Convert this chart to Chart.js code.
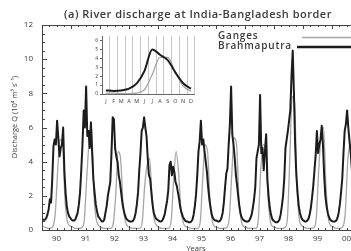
<!DOCTYPE html>
<html>
<head>
<meta charset="utf-8">
<script src="https://cdn.jsdelivr.net/npm/chart.js@4/dist/chart.umd.min.js"></script>
<style>
body { margin: 0; width: 351px; height: 251px; overflow: hidden; background: #fff; position: relative; }
#main { position: absolute; left: 0; top: 0; }
#inset { position: absolute; left: 90px; top: 31px; }
</style>
</head>
<body>
<canvas id="main" width="362" height="251"></canvas>
<canvas id="inset" width="107" height="75"></canvas>
<script>
var chartTitle = '(a) River discharge at India-Bangladesh border';
var yTitle = 'Discharge Q (10\u2074 m\u00b3 s\u207b\u00b9)';
var xTitle = 'Years';
var firstYear = 1990;
var yearLabels = ['90', '91', '92', '93', '94', '95', '96', '97', '98', '99', '00'];
var monthLabels = ['J', 'F', 'M', 'A', 'M', 'J', 'J', 'A', 'S', 'O', 'N', 'D'];
var seriesNames = ['Ganges', 'Brahmaputra'];

// Brahmaputra, half-monthly values, one row per year (10^4 m3/s)
var brahmaputra = [
	[0.6,0.6,0.6,0.7,0.9,1.2,1.8,1.6,3.0,4.9,5.3,5.0,6.4,5.4,4.3,4.8,5.0,6.0,3.5,2.2,1.4,1.0,0.8,0.7], // 1990
	[0.6,0.55,0.55,0.6,0.8,1.0,1.5,2.2,3.5,5.0,7.0,6.0,8.4,5.5,5.8,4.8,6.3,4.5,3.0,2.2,1.5,1.1,0.8,0.7], // 1991
	[0.6,0.5,0.5,0.6,1.0,1.4,2.0,2.4,2.8,4.5,6.6,6.5,4.8,4.3,4.0,3.2,2.8,2.2,1.6,1.2,0.9,0.7,0.6,0.55], // 1992
	[0.5,0.5,0.5,0.55,0.7,1.0,1.5,2.2,3.5,4.5,5.8,6.0,6.6,6.0,5.5,4.2,3.2,3.0,2.2,1.5,1.0,0.8,0.65,0.6], // 1993
	[0.55,0.5,0.5,0.55,0.7,0.9,1.3,1.7,2.3,3.8,4.0,3.2,3.7,3.4,2.8,2.6,2.2,1.8,1.3,1.0,0.8,0.65,0.55,0.5], // 1994
	[0.5,0.45,0.45,0.5,0.6,0.9,1.4,2.1,3.2,4.6,5.2,6.4,5.0,5.3,4.6,4.0,3.4,2.5,1.8,1.3,0.9,0.7,0.6,0.55], // 1995
	[0.55,0.5,0.5,0.55,0.7,1.0,1.6,2.5,3.3,3.6,5.0,6.2,8.4,5.6,5.0,4.2,3.2,2.6,1.9,1.3,0.9,0.7,0.6,0.55], // 1996
	[0.5,0.5,0.5,0.55,0.7,0.9,1.3,1.8,2.5,4.2,4.6,5.0,7.9,4.5,4.8,3.5,4.6,5.6,3.0,2.0,1.3,0.9,0.65,0.55], // 1997
	[0.5,0.45,0.45,0.5,0.6,0.9,1.4,2.0,3.0,4.8,5.3,5.8,6.4,7.0,9.0,10.5,8.0,5.0,3.2,2.2,1.4,1.0,0.75,0.6], // 1998
	[0.55,0.5,0.5,0.55,0.65,0.9,1.3,1.9,2.6,3.5,4.4,5.8,4.5,5.0,5.3,6.1,5.0,3.2,2.0,1.4,1.0,0.75,0.6,0.55], // 1999
	[0.5,0.5,0.5,0.55,0.7,1.0,1.5,2.2,3.0,4.5,5.8,6.2,7.0,6.0,5.2,4.5,3.5,2.5,1.8,1.3,0.9,0.7,0.6,0.55] // 2000
];

// Ganges, monthly values, one row per year
var ganges = [
	[0.2,0.15,0.1,0.1,0.2,1.0,3.5,5.3,5.0,1.8,0.5,0.25], // 1990
	[0.2,0.1,0.1,0.1,0.15,0.6,3.0,5.2,6.0,2.0,0.6,0.25], // 1991
	[0.15,0.1,0.1,0.1,0.1,0.4,2.0,4.6,4.2,1.6,0.5,0.2], // 1992
	[0.15,0.1,0.1,0.1,0.1,0.5,2.6,3.8,4.2,2.0,0.6,0.25], // 1993
	[0.15,0.1,0.1,0.1,0.1,0.6,3.0,4.6,3.4,1.2,0.4,0.2], // 1994
	[0.15,0.1,0.1,0.1,0.1,0.5,3.0,5.0,4.6,1.8,0.5,0.2], // 1995
	[0.15,0.1,0.1,0.1,0.15,0.7,3.2,5.4,5.0,1.8,0.5,0.2], // 1996
	[0.15,0.1,0.1,0.1,0.1,0.6,3.5,5.0,4.8,2.0,0.5,0.2], // 1997
	[0.15,0.1,0.1,0.1,0.15,0.6,4.0,7.8,7.5,2.5,0.6,0.25], // 1998
	[0.15,0.1,0.1,0.1,0.15,0.7,3.5,5.5,6.0,2.6,0.7,0.25], // 1999
	[0.2,0.1,0.1,0.1,0.2,1.0,4.0,5.0,4.6,2.0,0.6,0.25] // 2000
];

// inset: mean seasonal cycle
var gangesMonthly = [0.1,0.1,0.05,0.05,0.1,0.5,2.2,4.1,4.1,2.4,0.9,0.3];
var brahmaMonthly = [0.4,0.35,0.4,0.6,1.2,2.6,5.0,4.4,3.8,2.4,1.2,0.6];
var insetYTicks = [0, 1, 2, 3, 4, 5, 6];

var textColor = '#3a3a3a';
var gangesColor = '#a6a6a6';
var brahmaColor = '#1c1c1c';

function toPoints(rows, perYear) {
	var pts = [];
	for (var y = 0; y < rows.length; y++) {
		for (var i = 0; i < rows[y].length; i++) {
			pts.push({x: firstYear + y + (i + 0.5) / perYear, y: rows[y][i]});
		}
	}
	return pts;
}

function monthPoints(vals) {
	return vals.map(function(v, i) { return {x: i + 0.5, y: v}; });
}

var frameTicks = {
	id: 'frameTicks',
	afterDraw: function(chart) {
		var ctx = chart.ctx, a = chart.chartArea, xs = chart.scales.x, ys = chart.scales.y;
		ctx.save();
		ctx.strokeStyle = '#444';
		ctx.lineWidth = 1;
		ctx.beginPath();
		ctx.moveTo(a.left, a.top + 0.5);
		ctx.lineTo(a.right, a.top + 0.5);
		for (var q = 0; q <= yearLabels.length * 4; q++) {
			var px = Math.round(xs.getPixelForValue(firstYear + q / 4)) + 0.5;
			var len = q % 4 == 0 ? 4 : 2;
			ctx.moveTo(px, a.bottom);
			ctx.lineTo(px, a.bottom - len);
			ctx.moveTo(px, a.top);
			ctx.lineTo(px, a.top + len);
		}
		for (var h = 0; h <= 24; h++) {
			var py = Math.round(ys.getPixelForValue(h / 2)) + 0.5;
			var len2 = h % 4 == 0 ? 5 : 3;
			ctx.moveTo(a.left, py);
			ctx.lineTo(a.left + len2, py);
		}
		ctx.stroke();
		ctx.restore();
	}
};

var textsPlugin = {
	id: 'texts',
	afterDraw: function(chart) {
		var ctx = chart.ctx;
		ctx.save();
		ctx.fillStyle = textColor;
		ctx.textBaseline = 'middle';
		// title
		ctx.font = '600 11px "Open Sans"';
		ctx.letterSpacing = '0.5px';
		ctx.textAlign = 'center';
		ctx.fillText(chartTitle, 198, 15);
		ctx.letterSpacing = '0px';
		// axis titles
		ctx.font = '7.5px "Open Sans"';
		ctx.fillText(xTitle, 196, 249);
		ctx.translate(15, 117);
		ctx.rotate(-Math.PI / 2);
		ctx.fillText(yTitle, 0, 0);
		ctx.restore();
		// legend
		ctx.save();
		ctx.fillStyle = textColor;
		ctx.textBaseline = 'middle';
		ctx.textAlign = 'left';
		ctx.font = '600 10px "Open Sans"';
		ctx.letterSpacing = '0.8px';
		ctx.fillText(seriesNames[0], 218, 36);
		ctx.fillText(seriesNames[1], 218, 46);
		ctx.strokeStyle = gangesColor;
		ctx.lineWidth = 1.5;
		ctx.beginPath(); ctx.moveTo(302, 37.5); ctx.lineTo(362, 37.5); ctx.stroke();
		ctx.strokeStyle = brahmaColor;
		ctx.lineWidth = 2.5;
		ctx.beginPath(); ctx.moveTo(297, 47); ctx.lineTo(362, 47); ctx.stroke();
		ctx.restore();
	}
};

var mainChart = new Chart(document.getElementById('main').getContext('2d'), {
	type: 'line',
	data: {
		datasets: [
			{label: seriesNames[0], data: toPoints(ganges, 12), borderColor: gangesColor, borderWidth: 1.3, pointRadius: 0, cubicInterpolationMode: 'monotone', order: 2},
			{label: seriesNames[1], data: toPoints(brahmaputra, 24), borderColor: brahmaColor, borderWidth: 2, borderJoinStyle: 'round', pointRadius: 0, tension: 0, order: 1}
		]
	},
	options: {
		responsive: false,
		animation: false,
		layout: {padding: {top: 25, right: 1, left: 0, bottom: 0}},
		plugins: {legend: {display: false}, tooltip: {enabled: false}, title: {display: false}},
		scales: {
			x: {
				type: 'linear', min: firstYear, max: firstYear + yearLabels.length,
				afterBuildTicks: function(axis) {
					axis.ticks = yearLabels.map(function(l, i) { return {value: firstYear + i + 0.5}; });
				},
				ticks: {
					autoSkip: false, maxRotation: 0, padding: 4, color: textColor,
					font: {size: 8, family: 'Open Sans'},
					callback: function(v, i) { return yearLabels[i]; }
				},
				grid: {drawOnChartArea: false, drawTicks: false},
				border: {color: '#444', width: 1},
				afterFit: function(s) { s.height = 21; }
			},
			y: {
				min: 0, max: 12,
				ticks: {stepSize: 2, padding: 9, color: textColor, font: {size: 8, family: 'Open Sans'}},
				grid: {drawOnChartArea: false, drawTicks: false},
				border: {color: '#444', width: 1},
				afterFit: function(s) { s.width = 42; }
			}
		}
	},
	plugins: [frameTicks, textsPlugin]
});

var insetChart = new Chart(document.getElementById('inset').getContext('2d'), {
	type: 'line',
	data: {
		datasets: [
			{label: seriesNames[0], data: monthPoints(gangesMonthly), borderColor: gangesColor, borderWidth: 1.3, pointRadius: 0, cubicInterpolationMode: 'monotone', order: 2},
			{label: seriesNames[1], data: monthPoints(brahmaMonthly), borderColor: brahmaColor, borderWidth: 2, pointRadius: 0, cubicInterpolationMode: 'monotone', order: 1}
		]
	},
	options: {
		responsive: false,
		animation: false,
		layout: {padding: {top: 2, right: 2, left: 0, bottom: 0}},
		plugins: {legend: {display: false}, tooltip: {enabled: false}},
		scales: {
			x: {
				type: 'linear', min: 0, max: 12,
				afterBuildTicks: function(axis) {
					axis.ticks = monthLabels.map(function(l, i) { return {value: i + 0.5}; });
				},
				ticks: {
					autoSkip: false, maxRotation: 0, padding: 4, color: textColor,
					font: {size: 5.5, family: 'Open Sans'},
					callback: function(v, i) { return monthLabels[i]; }
				},
				grid: {offset: true, drawTicks: false, color: '#b8b8b8', lineWidth: 0.8},
				border: {color: '#666', width: 1},
				afterFit: function(s) { s.height = 12; }
			},
			y: {
				min: 0, max: 6.5,
				afterBuildTicks: function(axis) {
					axis.ticks = insetYTicks.map(function(v) { return {value: v}; });
				},
				ticks: {padding: 2, color: textColor, font: {size: 5, family: 'Open Sans'}},
				grid: {drawOnChartArea: false, drawTicks: true, tickLength: 2, color: '#666'},
				border: {color: '#666', width: 1},
				afterFit: function(s) { s.width = 12; }
			}
		}
	}
});
</script>
</body>
</html>
